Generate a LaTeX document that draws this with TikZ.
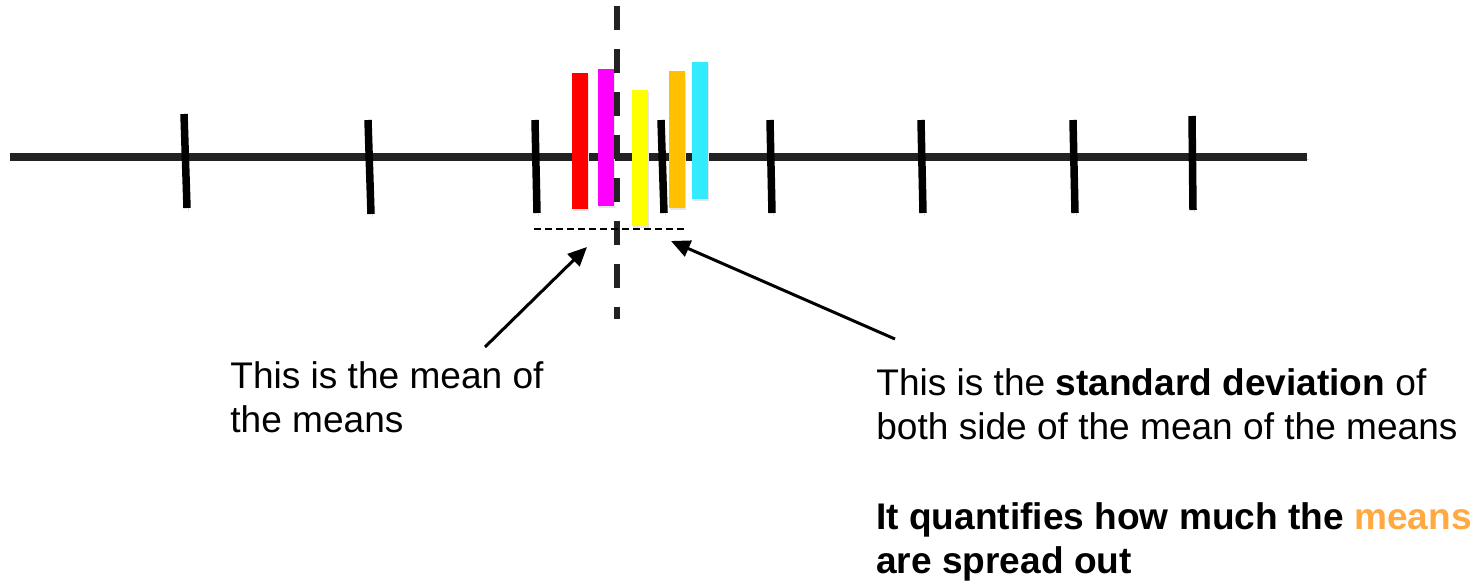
\documentclass[tikz,border=0pt]{standalone}
\usepackage{fontspec}
\setmainfont{Liberation Sans}
\usepackage{xcolor}
\usepackage{tikz}
\usetikzlibrary{arrows.meta, positioning}
\definecolor{myaxis}{RGB}{34,34,34}
\definecolor{myred}{RGB}{255,0,0}
\definecolor{mymagenta}{RGB}{255,0,255}
\definecolor{myyellow}{RGB}{255,255,0}
\definecolor{myorange}{RGB}{255,192,0}
\definecolor{mycyan}{RGB}{50,235,255}
\definecolor{myhighlight}{RGB}{255,169,64}
\tikzstyle{softshadow} = [preaction={draw=black!15, transform canvas={shift={(0.03cm,-0.05cm)}}}]
\tikzstyle{numberline} = [line width=0.155cm, draw=myaxis, softshadow]
\tikzstyle{notch} = [line width=0.15cm, draw=black, softshadow]
\tikzstyle{meanbar} = [rectangle, minimum width=0.32cm, inner sep=0pt, outer sep=0pt, preaction={fill=black!10, transform canvas={shift={(0.02cm,-0.04cm)}}}]
\tikzstyle{meanline} = [line width=0.12cm, draw=myaxis, dash pattern=on 0.48cm off 0.38cm]
\tikzstyle{spreadline} = [line width=0.03cm, draw=black, dash pattern=on 0.14cm off 0.08cm]
\tikzstyle{arrow} = [line width=0.06cm, -{Triangle[length=0.38cm, width=0.34cm]}]
\tikzstyle{note} = [align=left, anchor=north west, inner sep=0pt, font=\fontsize{21.1}{25}\selectfont]
\tikzstyle{boldnote} = [note, font=\fontsize{21.1}{25}\selectfont\bfseries]

\begin{document}
\begin{tikzpicture}[x=0.02cm, y=-0.02cm]
    \useasboundingbox (0,0) rectangle (1481,585);
    % number line with its ticks
    \coordinate (lineleft) at (10,157);
    \coordinate (lineright) at (1307,157);
    \draw[numberline] (lineleft) -- (lineright);
    \foreach \xa/\ya/\xb/\yb in {184/114/187/208, 368/120/371/214, 535/120/537/213, 661/120/664/213,
                                 770/120/772/213, 921/120/923/213, 1073/120/1075/213, 1192/116/1193/210}
        \draw[notch] (\xa,\ya) -- (\xb,\yb);
    % the sample means
    \node (red) [meanbar, fill=myred, minimum height=2.72cm] at (580,141) {};
    \node (magenta) [meanbar, fill=mymagenta, minimum height=2.74cm] at (606,137.5) {};
    \node (yellow) [meanbar, fill=myyellow, minimum height=2.72cm] at (640,158) {};
    \node (orange) [meanbar, fill=myorange, minimum height=2.74cm] at (677,139.5) {};
    \node (cyan) [meanbar, fill=mycyan, minimum height=2.74cm] at (700,130.5) {};
    % mean of the means and the spread
    \coordinate (meantop) at (617,6);
    \coordinate (meanbottom) at (617,319);
    \draw[meanline] (meantop) -- (meanbottom);
    \coordinate (spreadleft) at (534,229);
    \coordinate (spreadright) at (687,229);
    \draw[spreadline] (spreadleft) -- (spreadright);
    % notes
    \node (meannote) [note] at (230,361) {This is the mean of\\the means};
    \node (sdnote) [note] at (876,368) {This is the \textbf{standard deviation} of\\both side of the mean of the means};
    \node (spreadnote) [boldnote] at (876,502) {It quantifies how much the \textcolor{myhighlight}{means}\\are spread out};
    \coordinate (meantail) at (485,347);
    \coordinate (meantip) at (587,247);
    \coordinate (sdtail) at (895,339);
    \coordinate (sdtip) at (671,241);
    \draw[arrow] (meantail) -- (meantip);
    \draw[arrow] (sdtail) -- (sdtip);
\end{tikzpicture}
\end{document}
